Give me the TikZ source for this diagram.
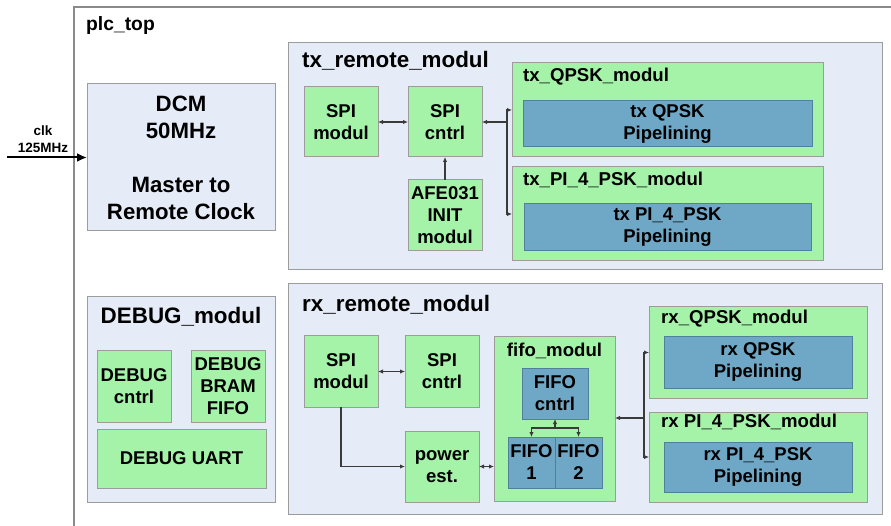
\documentclass[tikz,border=0pt]{standalone}
\usepackage{fontspec}
\setmainfont{Liberation Sans}
\usetikzlibrary{arrows.meta,positioning}
\definecolor{PlcFrame}{HTML}{8A8A8A}
\definecolor{PlcLine}{HTML}{9C9C9C}
\definecolor{PlcPale}{HTML}{E6ECF7}
\definecolor{PlcGreen}{HTML}{A4F3A8}
\definecolor{PlcSteel}{HTML}{6FA8C6}
\definecolor{PlcSteelLine}{HTML}{50809A}
\definecolor{PlcWire}{HTML}{3A3A3A}
\tikzset{
  wire/.style={line width=1.2pt, draw=PlcWire, >={Latex[length=5pt,width=4.5pt]}},
  container/.style={draw=PlcLine, fill=PlcPale, line width=1pt, inner sep=0pt, outer sep=0pt},
  blk/.style={draw=PlcLine, fill=PlcGreen, line width=1pt, align=center, inner sep=1pt,
              outer sep=0pt, font=\bfseries\fontsize{18.5}{22}\selectfont},
  pipe/.style={blk, draw=PlcSteelLine, fill=PlcSteel},
  modtitle/.style={anchor=base west, inner sep=0pt, font=\bfseries\fontsize{22.4}{26}\selectfont},
  subtitle/.style={modtitle, font=\bfseries\fontsize{18.6}{22}\selectfont},
}

\begin{document}
\begin{tikzpicture}[x=1pt, y=-1pt]
  \useasboundingbox (0,0) rectangle (891,526);
  % top level frame
  \draw[draw=PlcFrame, line width=1.5pt] (891,7) -- (74,7) -- (74,526);
  \node[modtitle, font=\bfseries\fontsize{19.3}{23}\selectfont] (plctop) at (86,31) {plc\_top};

  % clock
  \node[container, align=center, minimum width=188pt, minimum height=147pt,
        font=\bfseries\fontsize{22.2}{27}\selectfont] (dcm) at (181,157.5)
    {DCM\\50MHz\\[27pt]Master to\\Remote Clock};
  \coordinate (clkin) at (7,157.5);
  \node[align=center, inner sep=0pt, font=\bfseries\fontsize{13.5}{16.5}\selectfont] (clklabel) at (43,139) {clk\\125MHz};
  \draw[line width=2pt, -{Latex[length=10pt,width=9pt]}] (clkin) -- (dcm.west);

  % debug
  \node[container, minimum width=188pt, minimum height=205pt] (dbg) at (181,399.5) {};
  \node[modtitle, anchor=base] (dbgtitle) at (181,324) {DEBUG\_modul};
  \node[blk, minimum width=74pt, minimum height=71pt] (dbgcntrl) at (134,386.5) {DEBUG\\cntrl};
  \node[blk, minimum width=74pt, minimum height=71pt, right=20pt of dbgcntrl] (dbgfifo) {DEBUG\\BRAM\\FIFO};
  \node[blk, minimum width=169pt, minimum height=59pt] (dbguart) at (181.5,458.5) {DEBUG UART};

  % tx side
  \node[container, minimum width=594pt, minimum height=227pt] (tx) at (585,156.5) {};
  \node[modtitle] (txtitle) at (302,67.7) {tx\_remote\_modul};
  \node[blk, minimum width=74pt, minimum height=70pt] (txspi) at (341,122) {SPI\\modul};
  \node[blk, minimum width=74pt, minimum height=70pt, right=30pt of txspi] (txcntrl) {SPI\\cntrl};
  \node[blk, minimum width=74pt, minimum height=71pt, below=23pt of txcntrl] (afe) {AFE031\\INIT\\modul};
  \node[blk, minimum width=311pt, minimum height=94pt] (txqpsk) at (667.5,110) {};
  \node[subtitle] (txqpsktitle) at (523,82) {tx\_QPSK\_modul};
  \node[pipe, minimum width=289pt, minimum height=46pt] (txqpskpipe) at (667.5,124) {tx QPSK\\Pipelining};
  \node[blk, minimum width=311pt, minimum height=94pt] (txpi) at (667.5,214) {};
  \node[subtitle] (txpititle) at (523,186) {tx\_PI\_4\_PSK\_modul};
  \node[pipe, minimum width=287pt, minimum height=47pt] (txpipipe) at (667.5,227.5) {tx PI\_4\_PSK\\Pipelining};
  \coordinate (txj) at (507,122);
  \draw[wire, <->] (txspi) -- (txcntrl);
  \draw[wire, ->] (afe) -- (txcntrl);
  \draw[wire, ->] (txj) -- (txcntrl);
  \draw[wire, ->] (txj) |- (txqpsk.west);
  \draw[wire, ->] (txj) |- (txpi.west);

  % rx side
  \node[container, minimum width=594pt, minimum height=230pt] (rx) at (585,399) {};
  \node[modtitle] (rxtitle) at (302,312) {rx\_remote\_modul};
  \node[blk, minimum width=74pt, minimum height=71pt] (rxspi) at (341,371.5) {SPI\\modul};
  \node[blk, minimum width=74pt, minimum height=71pt, right=27pt of rxspi] (rxcntrl) {SPI\\cntrl};
  \node[blk, minimum width=74pt, minimum height=71pt, below=24pt of rxcntrl] (power) {power\\est.};
  \node[blk, minimum width=121pt, minimum height=164pt] (fifo) at (554.5,419) {};
  \node[subtitle, anchor=base] (fifotitle) at (554.5,356) {fifo\_modul};
  \node[pipe, minimum width=66pt, minimum height=51pt] (fifocntrl) at (555,393.5) {FIFO\\cntrl};
  \node[pipe, inner sep=0pt, minimum width=47pt, minimum height=51pt] (fifo1) at (531.5,462.5) {FIFO\\1};
  \node[pipe, inner sep=0pt, minimum width=47pt, minimum height=51pt] (fifo2) at (578.5,462.5) {FIFO\\2};
  \node[blk, minimum width=218pt, minimum height=91pt] (rxqpsk) at (758,352.5) {};
  \node[subtitle] (rxqpsktitle) at (661,324) {rx\_QPSK\_modul};
  \node[pipe, minimum width=188pt, minimum height=51pt] (rxqpskpipe) at (758,362.5) {rx QPSK\\Pipelining};
  \node[blk, minimum width=218pt, minimum height=90pt] (rxpi) at (758,457) {};
  \node[subtitle] (rxpititle) at (661,427) {rx PI\_4\_PSK\_modul};
  \node[pipe, minimum width=188pt, minimum height=50pt] (rxpipipe) at (758,467) {rx PI\_4\_PSK\\Pipelining};
  \coordinate (fj) at (555,428);
  \coordinate (rxj) at (644,418);
  \draw[wire, <->] (rxspi) -- (rxcntrl);
  \draw[wire, ->] (rxspi.south) |- (power.west);
  \draw[wire, <->] (power.east) -- (power.east -| fifo.west);
  \draw[wire, ->] (fj) -- (fifocntrl.south);
  \draw[wire, ->] (fj) -| (fifo1.north);
  \draw[wire, ->] (fj) -| (fifo2.north);
  \draw[wire, ->] (rxj) -- (rxj -| fifo.east);
  \draw[wire, ->] (rxj) |- (rxqpsk.west);
  \draw[wire, ->] (rxj) |- (rxpi.west);
\end{tikzpicture}
\end{document}
